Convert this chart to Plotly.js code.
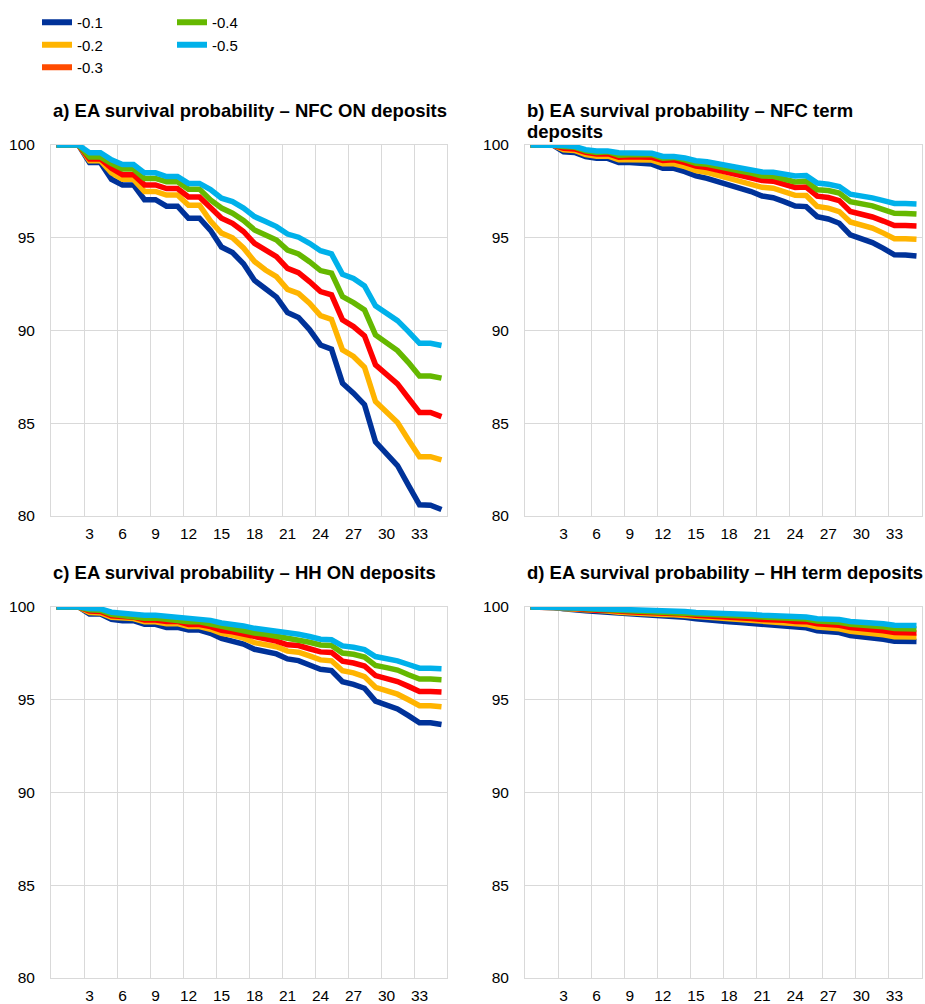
<!DOCTYPE html>
<html>
<head>
<meta charset="utf-8">
<script src="https://cdn.plot.ly/plotly-3.0.1.min.js"></script>
<style>html,body{margin:0;padding:0;background:#fff;}#chart{width:925px;height:1004px;}</style>
</head>
<body>
<div id="chart"></div>
<script>
// months since shock (category axis 0..35)
var months = [0,1,2,3,4,5,6,7,8,9,10,11,12,13,14,15,16,17,18,19,20,21,22,23,24,25,26,27,28,29,30,31,32,33,34,35];
var tickMonths = [3,6,9,12,15,18,21,24,27,30,33];
var seriesNames = ['-0.1','-0.2','-0.3','-0.4','-0.5'];

// a) NFC ON deposits
var a_m01 = [100,100,100,99.05,99.05,98.15,97.85,97.85,97.05,97.05,96.7,96.7,96.05,96.05,95.4,94.5,94.2,93.6,92.7,92.25,91.8,90.97,90.7,90.05,89.22,89.0,87.16,86.62,86.0,84.0,83.38,82.72,81.65,80.6,80.58,80.35];
var a_m02 = [100,100,100,99.15,99.15,98.5,98.15,98.15,97.5,97.5,97.3,97.3,96.75,96.75,95.9,95.25,95.0,94.45,93.72,93.26,92.9,92.22,92.0,91.47,90.8,90.6,88.95,88.6,88.02,86.17,85.63,85.04,84.1,83.2,83.2,83.03];
var a_m03 = [100,100,100,99.25,99.25,98.75,98.4,98.4,97.85,97.85,97.65,97.65,97.2,97.2,96.6,96.05,95.78,95.34,94.7,94.34,93.98,93.35,93.12,92.64,92.1,91.92,90.57,90.21,89.71,88.15,87.66,87.12,86.35,85.58,85.58,85.36];
var a_m04 = [100,100,100,99.35,99.35,99.0,98.7,98.7,98.2,98.2,98.02,98.02,97.62,97.62,97.04,96.6,96.32,95.93,95.42,95.15,94.88,94.34,94.13,93.71,93.23,93.09,91.83,91.5,91.11,89.76,89.35,88.92,88.27,87.55,87.55,87.43];
var a_m05 = [100,100,100,99.58,99.58,99.2,98.95,98.95,98.5,98.5,98.3,98.3,97.93,97.93,97.6,97.13,96.95,96.6,96.14,95.87,95.6,95.2,95.03,94.7,94.3,94.13,93.03,92.8,92.4,91.33,90.93,90.53,89.94,89.31,89.31,89.19];

// b) NFC term deposits
var b_m01 = [100,100,100,99.64,99.6,99.38,99.28,99.28,99.06,99.05,98.98,98.97,98.75,98.74,98.56,98.33,98.2,98.03,97.79,97.67,97.49,97.25,97.16,96.95,96.71,96.68,96.14,96.01,95.78,95.15,94.97,94.74,94.43,94.08,94.07,94.02];
var b_m02 = [100,100,100,99.74,99.71,99.49,99.4,99.41,99.2,99.21,99.18,99.19,98.99,98.99,98.83,98.62,98.52,98.37,98.15,98.06,97.92,97.72,97.67,97.5,97.29,97.28,96.69,96.6,96.41,95.85,95.72,95.52,95.25,94.95,94.95,94.92];
var b_m03 = [100,100,100,99.82,99.79,99.6,99.52,99.53,99.34,99.36,99.32,99.34,99.17,99.2,99.05,98.86,98.79,98.66,98.47,98.4,98.27,98.09,98.05,97.9,97.71,97.73,97.24,97.17,97.0,96.42,96.3,96.12,95.9,95.66,95.66,95.64];
var b_m04 = [100,100,100,99.92,99.89,99.69,99.6,99.64,99.45,99.48,99.45,99.48,99.29,99.33,99.2,99.02,98.96,98.84,98.65,98.6,98.49,98.33,98.31,98.17,98.01,98.05,97.59,97.55,97.41,96.95,96.85,96.72,96.52,96.32,96.31,96.28];
var b_m05 = [100,100,100,99.97,99.92,99.75,99.68,99.68,99.58,99.58,99.55,99.55,99.38,99.38,99.3,99.15,99.1,99.0,98.83,98.78,98.68,98.55,98.53,98.42,98.33,98.35,97.95,97.88,97.76,97.35,97.28,97.15,97.0,96.85,96.84,96.82];

// c) HH ON deposits
var c_m01 = [100,100,100,99.62,99.62,99.34,99.26,99.26,99.07,99.07,98.9,98.9,98.76,98.76,98.58,98.31,98.19,98.0,97.72,97.6,97.47,97.2,97.11,96.87,96.64,96.57,95.97,95.83,95.62,94.93,94.72,94.5,94.14,93.76,93.76,93.67];
var c_m02 = [100,100,100,99.7,99.68,99.45,99.38,99.38,99.2,99.2,99.1,99.1,98.95,98.95,98.8,98.58,98.47,98.32,98.08,97.98,97.86,97.62,97.56,97.36,97.15,97.1,96.56,96.45,96.25,95.67,95.5,95.3,95.0,94.68,94.68,94.62];
var c_m03 = [100,100,100,99.78,99.76,99.52,99.45,99.45,99.3,99.3,99.22,99.22,99.06,99.06,98.94,98.75,98.66,98.54,98.35,98.27,98.16,97.96,97.92,97.75,97.58,97.55,97.08,96.98,96.82,96.3,96.15,95.98,95.72,95.45,95.45,95.42];
var c_m04 = [100,100,100,99.85,99.83,99.6,99.53,99.53,99.4,99.4,99.33,99.33,99.2,99.2,99.08,98.92,98.85,98.75,98.6,98.53,98.44,98.28,98.24,98.1,97.95,97.93,97.52,97.45,97.3,96.85,96.73,96.6,96.35,96.12,96.12,96.08];
var c_m05 = [100,100,100,99.92,99.9,99.72,99.66,99.66,99.56,99.56,99.5,99.5,99.39,99.39,99.28,99.14,99.08,98.98,98.85,98.78,98.7,98.57,98.53,98.41,98.26,98.23,97.9,97.83,97.7,97.33,97.22,97.1,96.9,96.7,96.7,96.67];

// d) HH term deposits
var d_m01 = [100,100,100,99.9,99.88,99.8,99.76,99.74,99.66,99.64,99.6,99.58,99.52,99.5,99.45,99.36,99.33,99.28,99.2,99.16,99.12,99.05,99.03,98.98,98.9,98.88,98.72,98.68,98.62,98.46,98.41,98.35,98.26,98.16,98.16,98.14];
var d_m02 = [100,100,100,99.92,99.9,99.83,99.8,99.78,99.71,99.7,99.66,99.65,99.6,99.58,99.54,99.46,99.43,99.39,99.32,99.29,99.26,99.2,99.18,99.14,99.07,99.06,98.92,98.88,98.83,98.69,98.64,98.59,98.5,98.4,98.4,98.38];
var d_m03 = [100,100,100,99.94,99.92,99.86,99.83,99.82,99.76,99.75,99.72,99.71,99.67,99.65,99.62,99.55,99.53,99.49,99.43,99.41,99.38,99.33,99.32,99.28,99.22,99.21,99.09,99.06,99.01,98.89,98.85,98.8,98.72,98.62,98.62,98.6];
var d_m04 = [100,100,100,99.96,99.95,99.9,99.87,99.86,99.81,99.8,99.78,99.77,99.73,99.72,99.69,99.63,99.61,99.58,99.53,99.51,99.49,99.45,99.44,99.4,99.35,99.35,99.24,99.22,99.18,99.07,99.04,99.0,98.93,98.84,98.83,98.81];
var d_m05 = [100,100,100,99.98,99.97,99.93,99.91,99.9,99.86,99.85,99.83,99.83,99.8,99.79,99.76,99.71,99.7,99.67,99.62,99.61,99.59,99.55,99.54,99.51,99.47,99.46,99.37,99.35,99.32,99.22,99.2,99.16,99.1,99.02,99.02,99.0];

var panelTitles = [
  ['a) EA survival probability – NFC ON deposits'],
  ['b) EA survival probability – NFC term', 'deposits'],
  ['c) EA survival probability – HH ON deposits'],
  ['d) EA survival probability – HH term deposits']
];

var lineColors = ['#003299','#FFB400','#FF0000','#65B800','#00B1EA'];
var legendColors = ['#003299','#FFB400','#FF4B00','#65B800','#00B1EA'];

var panels = [
  [a_m01,a_m02,a_m03,a_m04,a_m05],
  [b_m01,b_m02,b_m03,b_m04,b_m05],
  [c_m01,c_m02,c_m03,c_m04,c_m05],
  [d_m01,d_m02,d_m03,d_m04,d_m05]
];

var FONT = 'Liberation Sans, Arial, sans-serif';
var traces = [];
panels.forEach(function(p, pi){
  var sfx = pi === 0 ? '' : String(pi+1);
  p.forEach(function(vals, si){
    traces.push({
      type:'scatter', mode:'lines', x: months, y: vals,
      xaxis:'x'+sfx, yaxis:'y'+sfx, name: seriesNames[si],
      line:{color: lineColors[si], width:5.5},
      showlegend:false, hoverinfo:'skip'
    });
  });
});
// legend entries (two columns)
seriesNames.forEach(function(n, si){
  traces.push({
    type:'scatter', mode:'lines', x:[null], y:[null], name:n,
    line:{color: legendColors[si], width:6},
    legend: si < 3 ? 'legend' : 'legend2', showlegend:true, hoverinfo:'skip'
  });
});

var W = 925, H = 1004;
function px(x){ return x / W; }
function py(y){ return 1 - y / H; }

var gridX = [-0.5,2.5,5.5,8.5,11.5,14.5,17.5,20.5,23.5,26.5,29.5,32.5,35.5];
var colsX = [[51,447],[525,922]];
var rowsY = [[145,516],[607,978]];

function xax(col, row){
  return {
    domain:[px(colsX[col][0]), px(colsX[col][1])],
    anchor: 'y' + (row*2+col === 0 ? '' : (row*2+col+1)),
    range:[-0.5,35.5], tickmode:'array', tickvals:tickMonths, ticktext:tickMonths.map(String),
    showgrid:false, zeroline:false, showline:true, mirror:true, linecolor:'#d9d9d9', linewidth:1,
    ticks:'', ticklabelstandoff:3,
    tickfont:{family:FONT, size:15.5, color:'#000'},
    minor:{tickmode:'array', tickvals:gridX, showgrid:true, gridcolor:'#d9d9d9', gridwidth:1, ticks:''},
    fixedrange:true
  };
}
function yax(col, row){
  return {
    domain:[py(rowsY[row][1]), py(rowsY[row][0])],
    anchor: 'x' + (row*2+col === 0 ? '' : (row*2+col+1)),
    range:[80,100], tickmode:'linear', tick0:80, dtick:5,
    showgrid:true, gridcolor:'#d9d9d9', gridwidth:1, zeroline:false,
    showline:true, mirror:true, linecolor:'#d9d9d9', linewidth:1,
    ticks:'', ticklabelstandoff:12,
    tickfont:{family:FONT, size:15.5, color:'#000'},
    fixedrange:true
  };
}

var TFONT = {family:FONT, size:18.5, color:'#000'};
function titleAnn(text, x, y){
  return {text:'<b>'+text+'</b>', x:px(x), y:py(y), xref:'paper', yref:'paper',
          xanchor:'left', yanchor:'middle', showarrow:false, align:'left', font:TFONT};
}

var layout = {
  width:W, height:H, autosize:false,
  margin:{l:0,r:0,t:0,b:0},
  paper_bgcolor:'#fff', plot_bgcolor:'#fff',
  font:{family:FONT, size:15, color:'#000'},
  xaxis: xax(0,0), yaxis: yax(0,0),
  xaxis2: xax(1,0), yaxis2: yax(1,0),
  xaxis3: xax(0,1), yaxis3: yax(0,1),
  xaxis4: xax(1,1), yaxis4: yax(1,1),
  legend:{x:px(37), y:py(6), xanchor:'left', yanchor:'top', bgcolor:'rgba(0,0,0,0)',
          font:{family:FONT, size:15, color:'#000'}, tracegroupgap:0, itemwidth:30},
  legend2:{x:px(172), y:py(6), xanchor:'left', yanchor:'top', bgcolor:'rgba(0,0,0,0)',
          font:{family:FONT, size:15, color:'#000'}, tracegroupgap:0, itemwidth:30},
  annotations: [
    titleAnn(panelTitles[0][0], 51, 110),
    titleAnn(panelTitles[1][0], 525, 110),
    titleAnn(panelTitles[1][1], 525, 131),
    titleAnn(panelTitles[2][0], 51, 572),
    titleAnn(panelTitles[3][0], 525, 572)
  ]
};

Plotly.newPlot('chart', traces, layout, {displayModeBar:false, staticPlot:true});
</script>
</body>
</html>
